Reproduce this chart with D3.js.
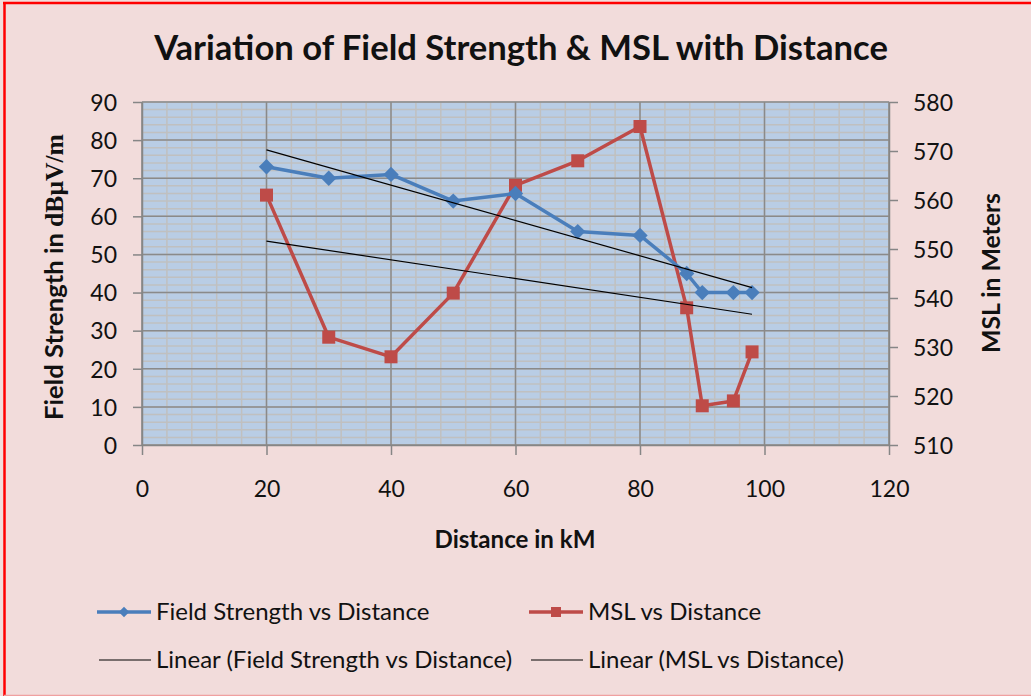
<!DOCTYPE html>
<html>
<head>
<meta charset="utf-8">
<script src="https://cdn.jsdelivr.net/npm/d3@7"></script>
<style>
  html, body { margin: 0; padding: 0; background: #f2dcdb; }
  svg { display: block; }
  text { font-family: Lato, "Noto Sans", sans-serif; fill: #111; }
</style>
</head>
<body>
<svg id="chart" width="1031" height="696"></svg>
<script>
// ---- data ----
const distance      = [20, 30, 40, 50, 60, 70, 80, 87.5, 90, 95, 98];
const fieldStrength = [73, 70, 71, 64, 66, 56, 55, 45, 40, 40, 40];
const mslValues     = [561, 532, 528, 541, 563, 568, 575, 538, 518, 519, 529];
const xTickValues     = [0, 20, 40, 60, 80, 100, 120];
const leftTickValues  = [0, 10, 20, 30, 40, 50, 60, 70, 80, 90];
const rightTickValues = [510, 520, 530, 540, 550, 560, 570, 580];
const titleText = "Variation of Field Strength & MSL with Distance";
const xTitle = "Distance in kM";
const rightTitle = "MSL in Meters";
const legendLabels = ["Field Strength vs Distance", "MSL vs Distance",
                      "Linear (Field Strength vs Distance)", "Linear (MSL vs Distance)"];

// ---- layout ----
const svg = d3.select("#chart");
const W = 1031, H = 696;
const P = {l: 142, r: 889, t: 102, b: 445};
const blue = "#4a7ebb", red = "#be4b48";

const x  = d3.scaleLinear().domain([0, 120]).range([P.l, P.r]);
const yL = d3.scaleLinear().domain([0, 90]).range([P.b, P.t]);
const yR = d3.scaleLinear().domain([510, 580]).range([P.b, P.t]);

svg.append("rect").attr("width", W).attr("height", H).attr("fill", "#f2dcdb");

// border
svg.append("line").attr("x1", 3).attr("x2", W).attr("y1", 3).attr("y2", 3)
  .attr("stroke", "#ff0000").attr("stroke-width", 2.5);
svg.append("line").attr("x1", 4.5).attr("x2", 4.5).attr("y1", 2).attr("y2", H)
  .attr("stroke", "#ff0000").attr("stroke-width", 2.5);
svg.append("line").attr("x1", 4).attr("x2", W).attr("y1", 695.5).attr("y2", 695.5)
  .attr("stroke", "#f0a0a0").attr("stroke-width", 1.5);

// plot area
svg.append("rect").attr("x", P.l).attr("y", P.t)
  .attr("width", P.r - P.l).attr("height", P.b - P.t).attr("fill", "#b9cde5");

const grid = svg.append("g");
// minor grid
grid.selectAll(".mv").data(d3.range(0, 121, 4)).join("line")
  .attr("x1", d => x(d)).attr("x2", d => x(d)).attr("y1", P.t).attr("y2", P.b)
  .attr("stroke", "#c0c0c0").attr("stroke-width", 1.5);
grid.selectAll(".mh").data(d3.range(0, 91, 2)).join("line")
  .attr("y1", d => yL(d)).attr("y2", d => yL(d)).attr("x1", P.l).attr("x2", P.r)
  .attr("stroke", "#c0c0c0").attr("stroke-width", 1.5);
// major grid
grid.selectAll(".Mv").data(xTickValues).join("line")
  .attr("x1", d => x(d)).attr("x2", d => x(d)).attr("y1", P.t).attr("y2", P.b)
  .attr("stroke", "#8a8a8a").attr("stroke-width", 1.5);
grid.selectAll(".Mh").data(leftTickValues).join("line")
  .attr("y1", d => yL(d)).attr("y2", d => yL(d)).attr("x1", P.l).attr("x2", P.r)
  .attr("stroke", "#8a8a8a").attr("stroke-width", 1.5);

// axes
const axisColor = "#868686";
function styleAxis(g) {
  g.select(".domain").attr("stroke", axisColor).attr("stroke-width", 1.5);
  g.selectAll(".tick line").attr("stroke", axisColor).attr("stroke-width", 1.5);
  g.selectAll(".tick text").style("font-family", "Lato, sans-serif")
    .style("font-size", "23px").attr("fill", "#1a1a1a");
}
svg.append("g").attr("transform", `translate(${P.l},0)`)
  .call(d3.axisLeft(yL).tickValues(leftTickValues).tickSize(9).tickSizeOuter(0).tickPadding(16))
  .call(styleAxis).selectAll(".tick text").attr("dy", "0.36em");
svg.append("g").attr("transform", `translate(${P.r},0)`)
  .call(d3.axisRight(yR).tickValues(rightTickValues).tickSize(9).tickSizeOuter(0).tickPadding(15))
  .call(styleAxis).selectAll(".tick text").attr("dy", "0.36em");
svg.append("g").attr("transform", `translate(0,${P.b})`)
  .call(d3.axisBottom(x).tickValues(xTickValues).tickSize(10).tickSizeOuter(0).tickPadding(26))
  .call(styleAxis);

// series
const ptsB = distance.map((d, i) => [d, fieldStrength[i]]);
const ptsR = distance.map((d, i) => [d, mslValues[i]]);
const lineB = d3.line().x(d => x(d[0])).y(d => yL(d[1]));
const lineR = d3.line().x(d => x(d[0])).y(d => yR(d[1]));

svg.append("path").datum(ptsR).attr("d", lineR).attr("fill", "none")
  .attr("stroke", red).attr("stroke-width", 3.5).attr("stroke-linejoin", "round");
svg.append("g").selectAll("rect").data(ptsR).join("rect")
  .attr("x", d => x(d[0]) - 6.5).attr("y", d => yR(d[1]) - 6.5)
  .attr("width", 13).attr("height", 13).attr("fill", red);

svg.append("path").datum(ptsB).attr("d", lineB).attr("fill", "none")
  .attr("stroke", blue).attr("stroke-width", 3.5).attr("stroke-linejoin", "round");
const diamond = d3.symbol().type(d3.symbolDiamond2).size(150);
svg.append("g").selectAll("path").data(ptsB).join("path")
  .attr("d", diamond)
  .attr("transform", d => `translate(${x(d[0])},${yL(d[1])})`).attr("fill", blue);

// trendlines (least squares fit of the series)
function fit(xs, ys) {
  const mx = d3.mean(xs), my = d3.mean(ys);
  const sxy = d3.sum(xs, (v, i) => (v - mx) * (ys[i] - my));
  const sxx = d3.sum(xs, v => (v - mx) * (v - mx));
  const m = sxy / sxx;
  return v => my + m * (v - mx);
}
const fB = fit(distance, fieldStrength), fR = fit(distance, mslValues);
const x0 = d3.min(distance), x1 = d3.max(distance);
svg.append("line").attr("x1", x(x0)).attr("x2", x(x1)).attr("y1", yL(fB(x0))).attr("y2", yL(fB(x1)))
  .attr("stroke", "#000").attr("stroke-width", 1.2);
svg.append("line").attr("x1", x(x0)).attr("x2", x(x1)).attr("y1", yR(fR(x0))).attr("y2", yR(fR(x1)))
  .attr("stroke", "#000").attr("stroke-width", 1.2);

// helper to fit text width
function fitWidth(t, target) {
  const fs = parseFloat(t.style("font-size"));
  const w = t.node().getComputedTextLength();
  t.style("font-size", (fs * target / w) + "px");
}

// title
const tt = svg.append("text").attr("x", 521).attr("y", 60).attr("text-anchor", "middle")
  .style("font-weight", "bold").style("font-size", "32px").text(titleText);
fitWidth(tt, 734);

// x title
const xt = svg.append("text").attr("x", 515).attr("y", 548).attr("text-anchor", "middle")
  .style("font-weight", "bold").style("font-size", "22px").text(xTitle);
fitWidth(xt, 161);

// right title
const rt = svg.append("text").attr("transform", "translate(1000,273) rotate(-90)")
  .attr("text-anchor", "middle").style("font-weight", "bold").style("font-size", "22px").text(rightTitle);
fitWidth(rt, 160);

// left title
const lt = svg.append("text").attr("transform", "translate(63,277) rotate(-90)")
  .attr("text-anchor", "middle").style("font-weight", "bold").style("font-size", "22px");
lt.append("tspan").text("Field Strength in ");
lt.append("tspan").style("font-family", "'Liberation Serif', 'DejaVu Serif', serif").text("dBμV/m");
fitWidth(lt, 286);

// legend
const lg = svg.append("g");
const legendItems = [
  {lx: 97,  tx: 156, y: 612, color: blue, w: 3.5, mark: "diamond", label: legendLabels[0]},
  {lx: 529, tx: 588, y: 612, color: red,  w: 3.5, mark: "square",  label: legendLabels[1]},
  {lx: 99,  tx: 156, y: 660, color: "#000", w: 1.2, mark: null, label: legendLabels[2]},
  {lx: 531, tx: 588, y: 660, color: "#000", w: 1.2, mark: null, label: legendLabels[3]}
];
legendItems.forEach(it => {
  const lineEnd = it.tx - 5;
  lg.append("line").attr("x1", it.lx).attr("x2", lineEnd).attr("y1", it.y).attr("y2", it.y)
    .attr("stroke", it.color).attr("stroke-width", it.w);
  const cx = (it.lx + lineEnd) / 2;
  if (it.mark === "diamond") {
    lg.append("path").attr("d", d3.symbol().type(d3.symbolDiamond2).size(70))
      .attr("transform", `translate(${cx},${it.y})`).attr("fill", it.color);
  } else if (it.mark === "square") {
    lg.append("rect").attr("x", cx - 5).attr("y", it.y - 5).attr("width", 10).attr("height", 10)
      .attr("fill", it.color);
  }
  lg.append("text").attr("x", it.tx).attr("y", it.y).attr("dy", "0.35em")
    .style("font-size", "24px").text(it.label);
});
</script>
</body>
</html>
